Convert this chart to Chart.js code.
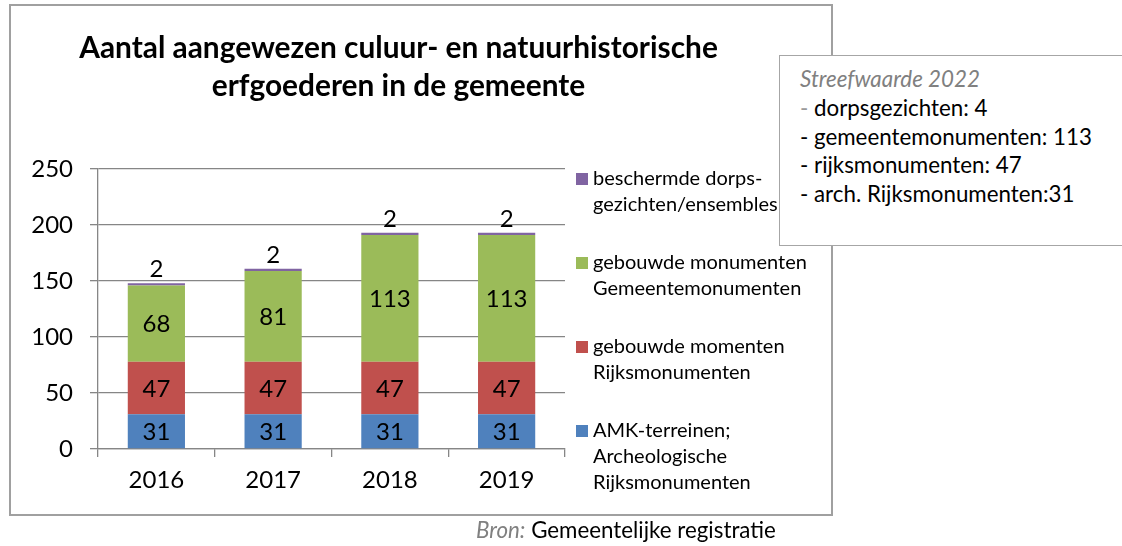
<!DOCTYPE html>
<html>
<head>
<meta charset="utf-8">
<script src="https://cdn.jsdelivr.net/npm/chart.js@4.4.0/dist/chart.umd.min.js"></script>
<style>
html,body{margin:0;padding:0;background:#fff;width:1122px;height:546px;overflow:hidden;font-family:Lato,"Open Sans",sans-serif;}
#frame{position:absolute;left:9px;top:4px;width:824px;height:512px;border:2px solid #a0a0a0;box-sizing:border-box;z-index:0}
#c{position:absolute;left:0;top:0;z-index:1}
#box{position:absolute;left:779px;top:55px;width:400px;height:191px;border:1px solid #a6a6a6;box-sizing:border-box;background:#fff;z-index:2}
.t{position:absolute;white-space:nowrap;line-height:1;color:#000;z-index:3;left:0;top:0}
.sq{position:absolute;width:12px;height:12px;z-index:3}
</style>
</head>
<body>
<div id="frame"></div>
<canvas id="c" width="1122" height="546"></canvas>
<div id="box"></div>
<script>
// ---- data ----
const years = ['2016', '2017', '2018', '2019'];
const amkArcheologisch = [31, 31, 31, 31];
const rijksmonumenten = [47, 47, 47, 47];
const gemeentemonumenten = [68, 81, 113, 113];
const dorpsgezichten = [2, 2, 2, 2];
const yMin = 0, yMax = 250, yStep = 50;

const titleLines = ['Aantal aangewezen culuur- en natuurhistorische', 'erfgoederen in de gemeente'];
const legendLabels = [
  ['beschermde dorps-', 'gezichten/ensembles'],
  ['gebouwde monumenten', 'Gemeentemonumenten'],
  ['gebouwde momenten', 'Rijksmonumenten'],
  ['AMK-terreinen;', 'Archeologische', 'Rijksmonumenten']
];
const boxTitle = 'Streefwaarde 2022';
const boxLines = ['dorpsgezichten: 4', 'gemeentemonumenten: 113', 'rijksmonumenten: 47', 'arch. Rijksmonumenten:31'];
const sourceLabel = 'Bron:';
const sourceText = 'Gemeentelijke registratie';

const colors = {blue:'#4F81BD', red:'#C0504D', green:'#9BBB59', purple:'#8064A2'};
const gridColor = '#868686';
const numFont = {family:'Lato', size:24};

// ---- chart ----
const dataLabels = {
  id:'dataLabels',
  afterDatasetsDraw(chart){
    const ctx = chart.ctx;
    ctx.save();
    ctx.font = numFont.size + 'px ' + numFont.family;
    ctx.fillStyle = '#000';
    ctx.textAlign = 'center';
    const n = chart.data.datasets.length;
    chart.data.datasets.forEach((ds, i) => {
      const meta = chart.getDatasetMeta(i);
      meta.data.forEach((bar, j) => {
        const v = ds.data[j];
        if (i === n - 1) {
          ctx.textBaseline = 'alphabetic';
          ctx.fillText(String(v), bar.x, bar.y - 6);
        } else {
          ctx.textBaseline = 'middle';
          ctx.fillText(String(v), bar.x, (bar.y + bar.base) / 2 + 1);
        }
      });
    });
    ctx.restore();
  }
};

new Chart(document.getElementById('c'), {
  type: 'bar',
  data: {
    labels: years,
    datasets: [
      {label: legendLabels[3].join(' '), data: amkArcheologisch, backgroundColor: colors.blue},
      {label: legendLabels[2].join(' '), data: rijksmonumenten, backgroundColor: colors.red},
      {label: legendLabels[1].join(' '), data: gemeentemonumenten, backgroundColor: colors.green},
      {label: legendLabels[0].join(''), data: dorpsgezichten, backgroundColor: colors.purple}
    ]
  },
  options: {
    responsive: false,
    animation: false,
    events: [],
    barPercentage: 0.49,
    categoryPercentage: 1,
    layout: {padding: {left: 0, top: 169, right: 557, bottom: 0}},
    plugins: {legend: {display: false}, tooltip: {enabled: false}, title: {display: false}},
    scales: {
      x: {
        stacked: true,
        grid: {offset: true, drawOnChartArea: false, color: gridColor, tickLength: 8, lineWidth: 1.3},
        border: {color: gridColor, width: 1.3},
        ticks: {font: numFont, color: '#000', padding: 9},
        afterFit: s => { s.height = 97; }
      },
      y: {
        stacked: true,
        min: yMin, max: yMax,
        grid: {color: gridColor, tickLength: 8, lineWidth: 1.3},
        border: {color: gridColor, width: 1.3},
        ticks: {stepSize: yStep, font: numFont, color: '#000', padding: 17},
        afterFit: s => { s.width = 98; }
      }
    }
  },
  plugins: [dataLabels]
});

// ---- HTML text ----
function mk(html, style) {
  const d = document.createElement('div');
  d.className = 't';
  d.innerHTML = html;
  Object.assign(d.style, style || {});
  document.body.appendChild(d);
  return d;
}
function fitSize(html, style, targetW) {
  const d = mk(html, Object.assign({}, style, {fontSize: '100px'}));
  const w = d.getBoundingClientRect().width;
  d.remove();
  return 100 * targetW / w;
}
function place(el, x, baseline, align) {
  const m = document.createElement('span');
  m.style.cssText = 'display:inline-block;width:0;height:0;vertical-align:baseline';
  el.appendChild(m);
  const r = el.getBoundingClientRect();
  const b = m.getBoundingClientRect().top - r.top;
  m.remove();
  const w = el.getBoundingClientRect().width;
  let left = x;
  if (align === 'center') left = x - w / 2;
  el.style.left = left + 'px';
  el.style.top = (baseline - b) + 'px';
}

// title
const tStyle = {fontWeight: '700'};
const tSize = fitSize(titleLines[0], tStyle, 639);
titleLines.forEach((line, i) => {
  const el = mk(line, Object.assign({}, tStyle, {fontSize: tSize + 'px'}));
  place(el, 398.5, 57.7 + i * 38, 'center');
});

// legend
const legColors = [colors.purple, colors.green, colors.red, colors.blue];
const lSize = fitSize(legendLabels[1][0], {}, 214);
legendLabels.forEach((lines, i) => {
  const base = 185 + i * 84;
  const sq = document.createElement('div');
  sq.className = 'sq';
  sq.style.left = '576px';
  sq.style.top = (base - 12) + 'px';
  sq.style.background = legColors[i];
  document.body.appendChild(sq);
  lines.forEach((line, k) => {
    const el = mk(line, {fontSize: lSize + 'px'});
    place(el, 593, base + k * 26, 'left');
  });
});

// text box
const bSize = fitSize('- ' + boxLines[1], {}, 292);
const bt = mk(boxTitle, {fontSize: bSize + 'px', fontStyle: 'italic', color: '#808080'});
place(bt, 800, 87.3, 'left');
boxLines.forEach((line, i) => {
  const dash = i === 0 ? '<span style="color:#9a9a9a">-</span> ' : '- ';
  const el = mk(dash + line, {fontSize: bSize + 'px'});
  place(el, 800, 116 + i * 28.7, 'left');
});

// source
const sHtml = '<span style="font-style:italic;color:#808080">' + sourceLabel + '</span> ' + sourceText;
const sSize = fitSize(sHtml, {}, 300);
const src = mk(sHtml, {fontSize: sSize + 'px'});
place(src, 476, 538, 'left');
</script>
</body>
</html>
